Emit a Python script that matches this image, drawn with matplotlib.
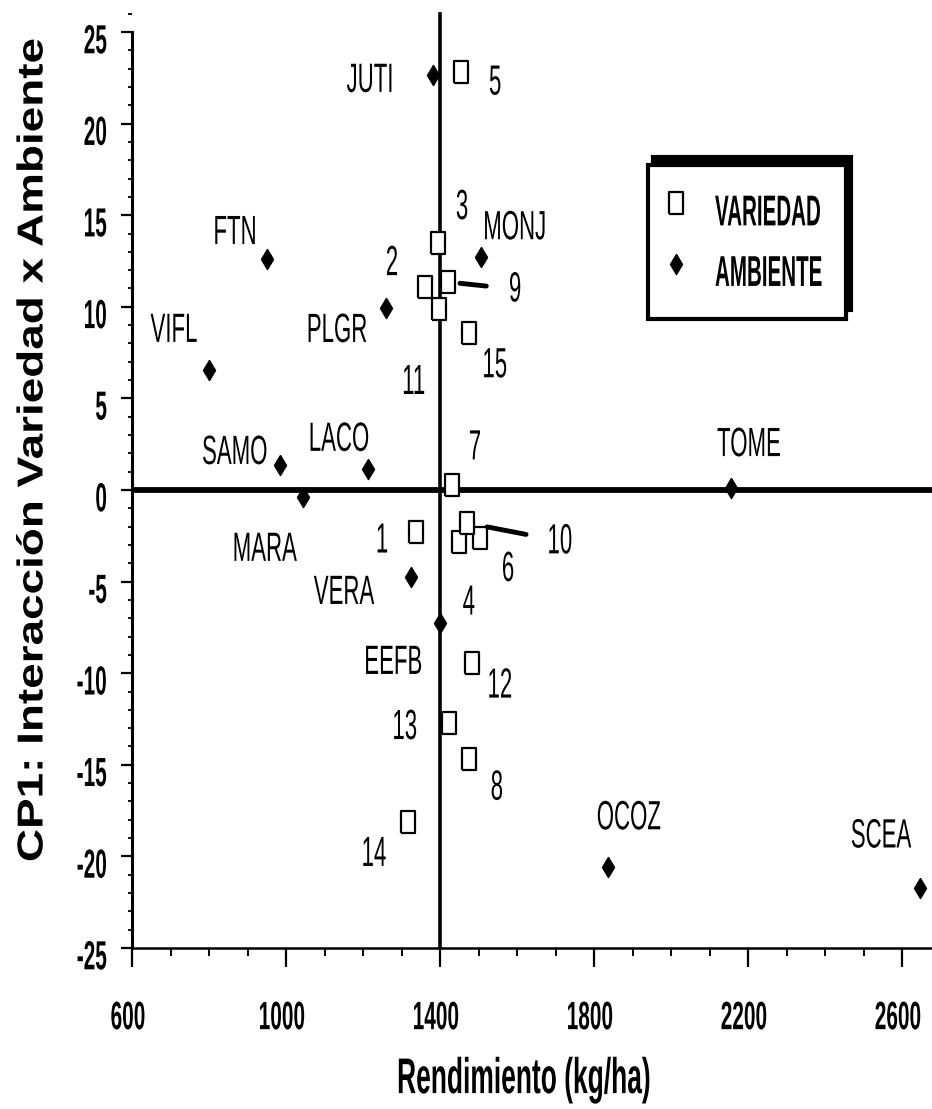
import matplotlib
matplotlib.use("Agg")
import matplotlib.pyplot as plt
from matplotlib import patheffects
from matplotlib.transforms import Affine2D
from matplotlib.ticker import MultipleLocator, FixedLocator

plt.rcParams['axes.unicode_minus'] = False

# ---------------- data ----------------
amb_names = ["JUTI", "FTN", "VIFL", "MONJ", "PLGR", "SAMO", "LACO", "MARA",
             "TOME", "VERA", "EEFB", "OCOZ", "SCEA"]
amb_x = [1382, 951, 800, 1506, 1260, 984, 1213, 1044, 2156, 1325, 1401, 1836, 2647]
amb_y = [22.65, 12.6, 6.55, 12.7, 9.93, 1.36, 1.15, -0.38, 0.1, -4.75, -7.26, -20.6, -21.7]

var_names = ["1", "2", "3", "4", "5", "6", "7", "8", "9", "10", "11", "12", "13", "14", "15"]
var_x = [1338, 1361, 1395, 1449, 1455, 1504, 1431, 1475, 1421, 1470, 1397, 1483, 1423, 1317, 1475]
var_y = [-2.3, 11.1, 13.5, -2.85, 22.8, -2.6, 0.27, -14.7, 11.35, -1.8, 9.9, -9.45, -12.7, -18.1, 8.57]

x_ticks = [600, 1000, 1400, 1800, 2200, 2600]
y_ticks = [-25, -20, -15, -10, -5, 0, 5, 10, 15, 20, 25]

# label offsets in pixels (dx right, dy down) from each marker
amb_off = {"JUTI": (-63, 3), "FTN": (-32, -29), "VIFL": (-35, -42), "MONJ": (34, -32),
           "PLGR": (-49, 20), "SAMO": (-45, -15), "LACO": (-29, -32), "MARA": (-38, 50),
           "TOME": (18, -46), "VERA": (-67, 13), "EEFB": (-47, 37), "OCOZ": (21, -52),
           "SCEA": (-39, -54)}
var_off = {"1": (-34, 6), "2": (-33, -26), "3": (24, -38), "4": (10, 58), "5": (34, 8),
           "6": (28, 29), "7": (23, -40), "8": (28, 26), "9": (67, 5), "10": (93, 16),
           "11": (-25, 71), "12": (28, 20), "13": (-44, 2), "14": (-34, 30), "15": (26, 30)}
leaders = {"9": (14.4, 8.6), "10": (13.7, 14.8)}


class Stretch(patheffects.AbstractPathEffect):
    """Draw text scaled (tall, condensed look) about its glyph centre."""
    def __init__(self, sx=1.0, sy=1.0, dx=0.0, dy=0.0):
        super().__init__()
        self.sx, self.sy, self.dx, self.dy = sx, sy, dx, dy

    def draw_path(self, renderer, gc, tpath, affine, rgbFace=None):
        ext = tpath.get_extents(affine)
        cx = 0.5 * (ext.x0 + ext.x1)
        cy = 0.5 * (ext.y0 + ext.y1)
        t = affine + Affine2D().translate(-cx, -cy).scale(self.sx, self.sy).translate(
            cx + self.dx, cy + self.dy)
        renderer.draw_path(gc, tpath, t, rgbFace)


SANS = ["Liberation Sans", "DejaVu Sans"]

W, H = 932, 1109
fig = plt.figure(figsize=(W / 100, H / 100), dpi=100)
x_px0, x_px1 = 132, 932
y_px_bot, y_px_top = 948, 4.5
ax = fig.add_axes([x_px0 / W, 1 - y_px_bot / H, (x_px1 - x_px0) / W, (y_px_bot - y_px_top) / H])
ax.set_xlim(600, 600 + (x_px1 - x_px0) / 0.385)
ax.set_ylim(-25, 25 + (32 - y_px_top) / 18.32)

for s in ["top", "right"]:
    ax.spines[s].set_visible(False)
ax.spines["left"].set_bounds(-25, 25)
ax.spines["left"].set_linewidth(2.2)
ax.spines["bottom"].set_linewidth(1.8)

ax.xaxis.set_major_locator(FixedLocator(x_ticks))
ax.xaxis.set_minor_locator(MultipleLocator(100))
ax.yaxis.set_major_locator(FixedLocator(y_ticks))
ax.yaxis.set_minor_locator(MultipleLocator(1))
ax.set_xticks(x_ticks)
ax.set_yticks(y_ticks)
ax.set_xticklabels([str(t) for t in x_ticks])
ax.set_yticklabels([str(t) for t in y_ticks])
ax.tick_params(axis="x", which="major", length=14, width=1.6, pad=29, direction="out")
ax.tick_params(axis="x", which="minor", length=6, width=1.4, direction="out")
ax.tick_params(axis="y", which="major", length=8, width=1.6, pad=10, direction="out")
ax.tick_params(axis="y", which="minor", length=3, width=1.3, direction="out")
for lab in ax.get_xticklabels():
    lab.set_fontfamily(SANS)
    lab.set_fontweight("bold")
    lab.set_fontsize(15)
    lab.set_path_effects([Stretch(1.0, 1.9, dx=-4)])
for lab in ax.get_yticklabels():
    lab.set_fontfamily(SANS)
    lab.set_fontweight("bold")
    lab.set_fontsize(15)
    lab.set_path_effects([Stretch(1.0, 1.95, dy=-7)])

# reference lines
ax.axhline(0, color="black", lw=4.2, zorder=1)
ax.plot([1400, 1400], [-25, 26], color="black", lw=2.6, zorder=1, clip_on=False)

sq = [(-0.3, -0.5), (0.3, -0.5), (0.3, 0.5), (-0.3, 0.5), (-0.3, -0.5)]
dia = [(0, 0.5), (0.3, 0), (0, -0.5), (-0.3, 0), (0, 0.5)]

ax.plot(var_x, var_y, linestyle="none", marker=sq, ms=16, mfc="white", mec="black",
        mew=1.6, zorder=3, label="VARIEDAD")
ax.plot(amb_x, amb_y, linestyle="none", marker=dia, ms=14.5, mfc="black", mec="black",
        zorder=3, label="AMBIENTE", clip_on=False)

for n, x, y in zip(amb_names, amb_x, amb_y):
    dx, dy = amb_off[n]
    t = ax.annotate(n, (x, y), xytext=(dx, -dy - 2), textcoords="offset pixels",
                    ha="center", va="center", fontsize=16, family=SANS)
    t.set_path_effects([Stretch(1.0, 1.84)])

for n, x, y in zip(var_names, var_x, var_y):
    dx, dy = var_off[n]
    ap = None
    if n in leaders:
        sa, sb = leaders[n]
        ap = dict(arrowstyle="-", lw=3.5, color="black", shrinkA=sa, shrinkB=sb)
    t = ax.annotate(n, (x, y), xytext=(dx, -dy - 2), textcoords="offset pixels",
                    ha="center", va="center", fontsize=16, family=SANS, arrowprops=ap)
    t.set_path_effects([Stretch(1.0, 1.9)])

leg = ax.legend(loc="upper left", bbox_to_anchor=(648 / W, 1 - 165 / H),
                bbox_transform=fig.transFigure, borderaxespad=0, frameon=True,
                fancybox=False, prop={"family": SANS, "weight": "bold", "size": 14.8},
                handlelength=0.39, handleheight=3.0, handletextpad=1.7,
                labelspacing=0.75, borderpad=1.17,
                shadow={"ox": 3.5, "oy": 6, "facecolor": "black", "edgecolor": "black",
                        "alpha": 1})
leg.get_frame().set_edgecolor("black")
leg.get_frame().set_linewidth(3)
leg.get_frame().set_alpha(1)
for t in leg.get_texts():
    t.set_path_effects([Stretch(1.0, 2.1)])

xl = fig.text(524 / W, 1 - 1080 / H, "Rendimiento (kg/ha)", ha="center", va="center",
              fontsize=19, fontweight="bold", family=SANS)
xl.set_path_effects([Stretch(1.0, 1.9)])
yl = fig.text(33 / W, 1 - 450 / H, "CP1: Interacción Variedad x Ambiente", ha="center",
              va="center", rotation=90, fontsize=26, fontweight="bold", family=SANS)
yl.set_path_effects([Stretch(1.0, 1.27)])

fig.savefig("out.png", dpi=100)
